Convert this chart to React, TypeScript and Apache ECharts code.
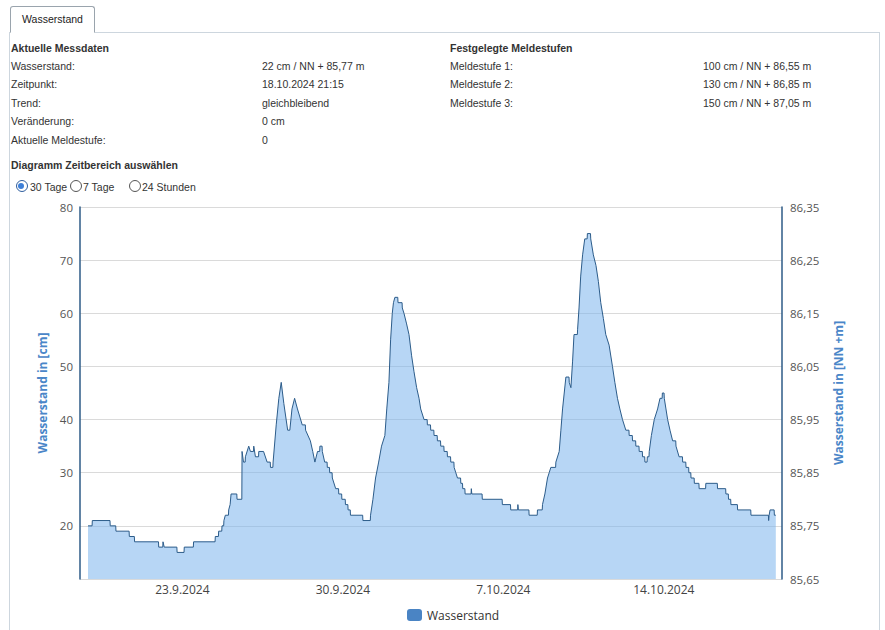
import React, { useEffect, useRef } from "react";
import * as echarts from "echarts";

// ---- Data: readings (time, level in cm) ----
const times: string[] = [
  "2024-09-18 21:15", "2024-09-19 01:45", "2024-09-19 20:30", "2024-09-20 02:30", "2024-09-20 16:30",
  "2024-09-20 22:00", "2024-09-21 23:15", "2024-09-22 03:45", "2024-09-22 05:00", "2024-09-22 18:30",
  "2024-09-23 02:00", "2024-09-23 11:45", "2024-09-24 10:30", "2024-09-24 14:00", "2024-09-24 17:30",
  "2024-09-24 19:30", "2024-09-24 21:00", "2024-09-25 00:30", "2024-09-25 02:00", "2024-09-25 03:00",
  "2024-09-25 09:15", "2024-09-25 14:15", "2024-09-25 14:30", "2024-09-25 16:00", "2024-09-25 18:00",
  "2024-09-25 21:30", "2024-09-25 23:15", "2024-09-26 02:45", "2024-09-26 04:30", "2024-09-26 08:00",
  "2024-09-26 13:00", "2024-09-26 16:45", "2024-09-26 20:15", "2024-09-26 23:00", "2024-09-27 02:15",
  "2024-09-27 05:00", "2024-09-27 07:30", "2024-09-27 10:15", "2024-09-27 14:15", "2024-09-27 16:30",
  "2024-09-27 18:45", "2024-09-27 21:30", "2024-09-28 00:30", "2024-09-28 05:30", "2024-09-28 09:00",
  "2024-09-28 14:00", "2024-09-28 16:30", "2024-09-28 18:45", "2024-09-28 21:30", "2024-09-29 00:00",
  "2024-09-29 02:30", "2024-09-29 05:00", "2024-09-29 07:45", "2024-09-29 10:15", "2024-09-29 13:00",
  "2024-09-29 16:30", "2024-09-29 19:45", "2024-09-29 23:00", "2024-09-30 02:45", "2024-09-30 05:30",
  "2024-09-30 08:00", "2024-09-30 21:00", "2024-10-01 05:00", "2024-10-01 07:30", "2024-10-01 10:15",
  "2024-10-01 13:30", "2024-10-01 16:30", "2024-10-01 20:00", "2024-10-01 22:00", "2024-10-02 00:15",
  "2024-10-02 02:00", "2024-10-02 03:45", "2024-10-02 05:00", "2024-10-02 06:30", "2024-10-02 09:45",
  "2024-10-02 14:15", "2024-10-02 16:00", "2024-10-02 18:45", "2024-10-02 21:15", "2024-10-03 00:00",
  "2024-10-03 02:30", "2024-10-03 05:15", "2024-10-03 07:45", "2024-10-03 09:30", "2024-10-03 13:00",
  "2024-10-03 16:30", "2024-10-03 20:00", "2024-10-03 23:30", "2024-10-04 03:00", "2024-10-04 06:30",
  "2024-10-04 10:00", "2024-10-04 13:30", "2024-10-04 17:00", "2024-10-04 20:30", "2024-10-04 22:15",
  "2024-10-05 00:00", "2024-10-05 03:30", "2024-10-05 05:30", "2024-10-05 08:00", "2024-10-05 14:30",
  "2024-10-05 15:00", "2024-10-06 02:00", "2024-10-06 23:00", "2024-10-07 07:45", "2024-10-07 15:15",
  "2024-10-07 15:45", "2024-10-08 03:00", "2024-10-08 11:45", "2024-10-08 17:00", "2024-10-08 19:30",
  "2024-10-08 22:15", "2024-10-09 00:00", "2024-10-09 01:45", "2024-10-09 07:00", "2024-10-09 10:30",
  "2024-10-09 12:15", "2024-10-09 14:00", "2024-10-09 15:45", "2024-10-09 17:30", "2024-10-09 21:00",
  "2024-10-09 22:45", "2024-10-10 00:30", "2024-10-10 02:00", "2024-10-10 05:45", "2024-10-10 07:15",
  "2024-10-10 09:00", "2024-10-10 11:00", "2024-10-10 13:15", "2024-10-10 16:00", "2024-10-10 19:30",
  "2024-10-10 22:15", "2024-10-11 01:00", "2024-10-11 03:30", "2024-10-11 06:00", "2024-10-11 08:45",
  "2024-10-11 11:15", "2024-10-11 14:45", "2024-10-11 18:15", "2024-10-11 20:45", "2024-10-11 23:30",
  "2024-10-12 02:00", "2024-10-12 04:45", "2024-10-12 08:15", "2024-10-12 11:45", "2024-10-12 15:15",
  "2024-10-12 18:45", "2024-10-12 22:15", "2024-10-13 01:45", "2024-10-13 04:15", "2024-10-13 06:45",
  "2024-10-13 08:45", "2024-10-13 11:00", "2024-10-13 14:00", "2024-10-13 17:30", "2024-10-13 20:00",
  "2024-10-13 22:30", "2024-10-14 00:30", "2024-10-14 02:15", "2024-10-14 04:00", "2024-10-14 06:30",
  "2024-10-14 09:15", "2024-10-14 12:45", "2024-10-14 16:00", "2024-10-14 19:45", "2024-10-14 23:15",
  "2024-10-15 02:15", "2024-10-15 04:30", "2024-10-15 08:00", "2024-10-15 13:00", "2024-10-15 20:00",
  "2024-10-16 08:15", "2024-10-16 17:00", "2024-10-16 19:45", "2024-10-16 22:15", "2024-10-17 05:15",
  "2024-10-17 19:15", "2024-10-18 13:45", "2024-10-18 14:15", "2024-10-18 15:15", "2024-10-18 19:45",
  "2024-10-18 21:15",
];
const levels: number[] = [
  20, 21, 20, 19, 18,
  17, 16, 17, 16, 15,
  16, 17, 18, 19, 20,
  21, 22, 23, 24, 26,
  25, 25, 34, 32, 33,
  35, 34, 35, 33, 34,
  34, 32, 31, 32, 39,
  44, 47, 43, 38, 38,
  42, 44, 42, 39, 38,
  36, 34, 32, 34, 35,
  34, 32, 31, 30, 29,
  27, 26, 25, 24, 23,
  22, 21, 22, 25, 29,
  32, 35, 37, 42, 47,
  55, 60, 62, 63, 62,
  61, 60, 58, 56, 52,
  49, 46, 44, 42, 40,
  39, 38, 37, 36, 35,
  34, 33, 32, 31, 30,
  29, 28, 27, 26, 27,
  26, 25, 24, 23, 24,
  23, 22, 23, 24, 26,
  29, 30, 31, 32, 34,
  38, 42, 45, 48, 47,
  46, 51, 56, 57, 61,
  67, 71, 74, 75, 74,
  71, 69, 66, 62, 59,
  56, 54, 50, 47, 44,
  42, 40, 38, 37, 36,
  35, 34, 33, 32, 33,
  34, 37, 40, 42, 44,
  45, 44, 42, 40, 38,
  36, 35, 33, 32, 31,
  30, 29, 28, 27, 28,
  27, 26, 25, 24, 23,
  22, 21, 22, 23, 22,
  22,
];
const dateTicks: string[] = ["2024-09-23 00:00", "2024-09-30 00:00", "2024-10-07 00:00", "2024-10-14 00:00"];
const seriesName = "Wasserstand";
const cmTicks = { min: 10, max: 80, step: 10 };
const nnZero = 85.55; // gauge zero in m above NN

const messdaten: [string, string][] = [
  ["Wasserstand:", "22 cm / NN + 85,77 m"],
  ["Zeitpunkt:", "18.10.2024 21:15"],
  ["Trend:", "gleichbleibend"],
  ["Veränderung:", "0 cm"],
  ["Aktuelle Meldestufe:", "0"],
];
const meldestufen: [string, string][] = [
  ["Meldestufe 1:", "100 cm / NN + 86,55 m"],
  ["Meldestufe 2:", "130 cm / NN + 86,85 m"],
  ["Meldestufe 3:", "150 cm / NN + 87,05 m"],
];
const ranges: string[] = ["30 Tage", "7 Tage", "24 Stunden"];

const HOUR = 3600 * 1000;
const DAY = 24 * HOUR;
const SAMPLE = 15 * 60 * 1000; // 15-minute measuring interval
function toMs(s: string): number {
  const [d, t] = s.split(" ");
  const [Y, M, D] = d.split("-").map(Number);
  const [h, m] = t.split(":").map(Number);
  return new Date(Y, M - 1, D, h, m).getTime();
}

// A level holds until the sample before the next 1 cm change (gauge resolution is 1 cm).
function buildVertices(): number[][] {
  const out: number[][] = [];
  const ts = times.map(toMs);
  for (let i = 0; i < ts.length; i++) {
    out.push([ts[i], levels[i]]);
    if (i < ts.length - 1) {
      const dv = Math.abs(levels[i + 1] - levels[i]);
      const dt = ts[i + 1] - ts[i];
      if (dv === 1 && dt >= 2 * HOUR) out.push([ts[i + 1] - SAMPLE, levels[i]]);
    }
  }
  return out;
}

const FONT_HTML = '"Liberation Sans", Arial, Helvetica, sans-serif';
const FONT_CHART = '"Open Sans", "Noto Sans", sans-serif';

function Chart() {
  const ref = useRef<HTMLDivElement>(null);
  useEffect(() => {
    if (!ref.current) return;
    const chart = echarts.init(ref.current, undefined, { renderer: "svg" });
    const data = buildVertices();
    const xMin = toMs(times[0]) - 0.35 * DAY;
    const xMax = toMs(times[times.length - 1]) + 0.27 * DAY;
    const fmtDate = (v: number) => {
      const d = new Date(v);
      return `${d.getDate()}.${d.getMonth() + 1}.${d.getFullYear()}`;
    };
    chart.setOption({
      animation: false,
      textStyle: { fontFamily: FONT_CHART },
      grid: { left: 80, right: 103, top: 12, bottom: 51, containLabel: false },
      legend: {
        left: 407,
        top: 414,
        padding: 0,
        icon: "roundRect",
        itemWidth: 15,
        itemHeight: 12,
        textStyle: { fontSize: 12, color: "#333", fontFamily: FONT_CHART },
        data: [{ name: seriesName, itemStyle: { color: "#4a84c4" } }],
      },
      xAxis: {
        type: "value",
        min: xMin,
        max: xMax,
        axisLine: { show: false },
        axisTick: { show: false },
        splitLine: { show: false },
        axisLabel: {
          customValues: dateTicks.map(toMs),
          formatter: fmtDate,
          color: "#444",
          fontSize: 12,
          margin: 4,
          showMinLabel: true,
          showMaxLabel: true,
        },
      },
      yAxis: [
        {
          type: "value",
          min: cmTicks.min,
          max: cmTicks.max,
          interval: cmTicks.step,
          position: "left",
          name: "Wasserstand in [cm]",
          nameLocation: "middle",
          nameGap: 26,
          nameTextStyle: { color: "#4a86c8", fontWeight: "bold", fontSize: 12, fontFamily: FONT_CHART },
          axisLine: { show: true, lineStyle: { color: "#2e5b87", width: 1.5 } },
          axisTick: { show: false },
          axisLabel: { showMinLabel: false, color: "#555", fontSize: 11.5, margin: 7 },
          splitLine: { show: true, lineStyle: { color: "#dadada", width: 1 } },
        },
        {
          type: "value",
          min: cmTicks.min,
          max: cmTicks.max,
          interval: cmTicks.step,
          position: "right",
          name: "Wasserstand in [NN +m]",
          nameLocation: "middle",
          nameGap: 50,
          nameRotate: 90,
          nameTextStyle: { color: "#4a86c8", fontWeight: "bold", fontSize: 12, fontFamily: FONT_CHART },
          axisLine: { show: true, lineStyle: { color: "#2e5b87", width: 1.5 } },
          axisTick: { show: false },
          axisLabel: {
            color: "#555",
            fontSize: 11.5,
            margin: 8,
            formatter: (v: number) => (nnZero + v / 100).toFixed(2).replace(".", ","),
          },
          splitLine: { show: false },
        },
      ],
      series: [
        {
          name: seriesName,
          type: "line",
          yAxisIndex: 0,
          data,
          showSymbol: false,
          symbol: "none",
          lineStyle: { color: "#2c5c8a", width: 1 },
          itemStyle: { color: "#4a84c4" },
          areaStyle: { color: "#7cb5ec", opacity: 0.55 },
        },
      ],
    });
    return () => chart.dispose();
  }, []);
  return (
    <div
      ref={ref}
      style={{ position: "absolute", left: 0, top: 195, width: 885, height: 435 }}
    />
  );
}

function TextAt(props: { x: number; y: number; bold?: boolean; children: React.ReactNode }) {
  return (
    <div
      style={{
        position: "absolute",
        left: props.x,
        top: props.y - 7,
        lineHeight: "14px",
        height: 14,
        whiteSpace: "nowrap",
        fontWeight: props.bold ? "bold" : "normal",
      }}
    >
      {props.children}
    </div>
  );
}

function Radio(props: { x: number; y: number; checked: boolean }) {
  const size = 12;
  return (
    <div
      style={{
        position: "absolute",
        left: props.x - size / 2,
        top: props.y - size / 2,
        width: size,
        height: size,
        boxSizing: "border-box",
        borderRadius: "50%",
        border: props.checked ? "1.5px solid #2f5e9e" : "1px solid #555",
        background: "#fff",
      }}
    >
      {props.checked && (
        <div
          style={{
            position: "absolute",
            left: 1.5,
            top: 1.5,
            width: 6,
            height: 6,
            borderRadius: "50%",
            background: "#3d7fd8",
          }}
        />
      )}
    </div>
  );
}

export default function App() {
  const rowY = [65.7, 84, 102.7, 121, 140];
  const radioX = [21.5, 76, 135];
  const radioTextX = [30, 83, 142];
  return (
    <div
      style={{
        position: "absolute",
        left: 0,
        top: 0,
        width: 885,
        height: 630,
        overflow: "hidden",
        background: "#fff",
        fontFamily: FONT_HTML,
        fontSize: 10.5,
        color: "#333",
      }}
    >
      {/* panel */}
      <div
        style={{
          position: "absolute",
          left: 9,
          top: 32,
          width: 871,
          height: 620,
          border: "1px solid #cdd6de",
          boxSizing: "border-box",
        }}
      />
      {/* tab */}
      <div
        style={{
          position: "absolute",
          left: 10,
          top: 6,
          width: 85,
          height: 27,
          boxSizing: "border-box",
          border: "1px solid #9aa4ad",
          borderBottom: "1px solid #fff",
          borderRadius: "3px 3px 0 0",
          background: "#fff",
          textAlign: "center",
          lineHeight: "25px",
          fontSize: 10.5,
          color: "#222",
        }}
      >
        Wasserstand
      </div>

      <TextAt x={11} y={47.5} bold>Aktuelle Messdaten</TextAt>
      {messdaten.map(([k, v], i) => (
        <React.Fragment key={k}>
          <TextAt x={11} y={rowY[i]}>{k}</TextAt>
          <TextAt x={262} y={rowY[i]}>{v}</TextAt>
        </React.Fragment>
      ))}
      <TextAt x={450} y={47.5} bold>Festgelegte Meldestufen</TextAt>
      {meldestufen.map(([k, v], i) => (
        <React.Fragment key={k}>
          <TextAt x={450} y={rowY[i]}>{k}</TextAt>
          <TextAt x={703} y={rowY[i]}>{v}</TextAt>
        </React.Fragment>
      ))}
      <TextAt x={11} y={165} bold>Diagramm Zeitbereich auswählen</TextAt>
      {ranges.map((r, i) => (
        <React.Fragment key={r}>
          <Radio x={radioX[i]} y={186} checked={i === 0} />
          <TextAt x={radioTextX[i]} y={186.5}>{r}</TextAt>
        </React.Fragment>
      ))}

      <Chart />
    </div>
  );
}
